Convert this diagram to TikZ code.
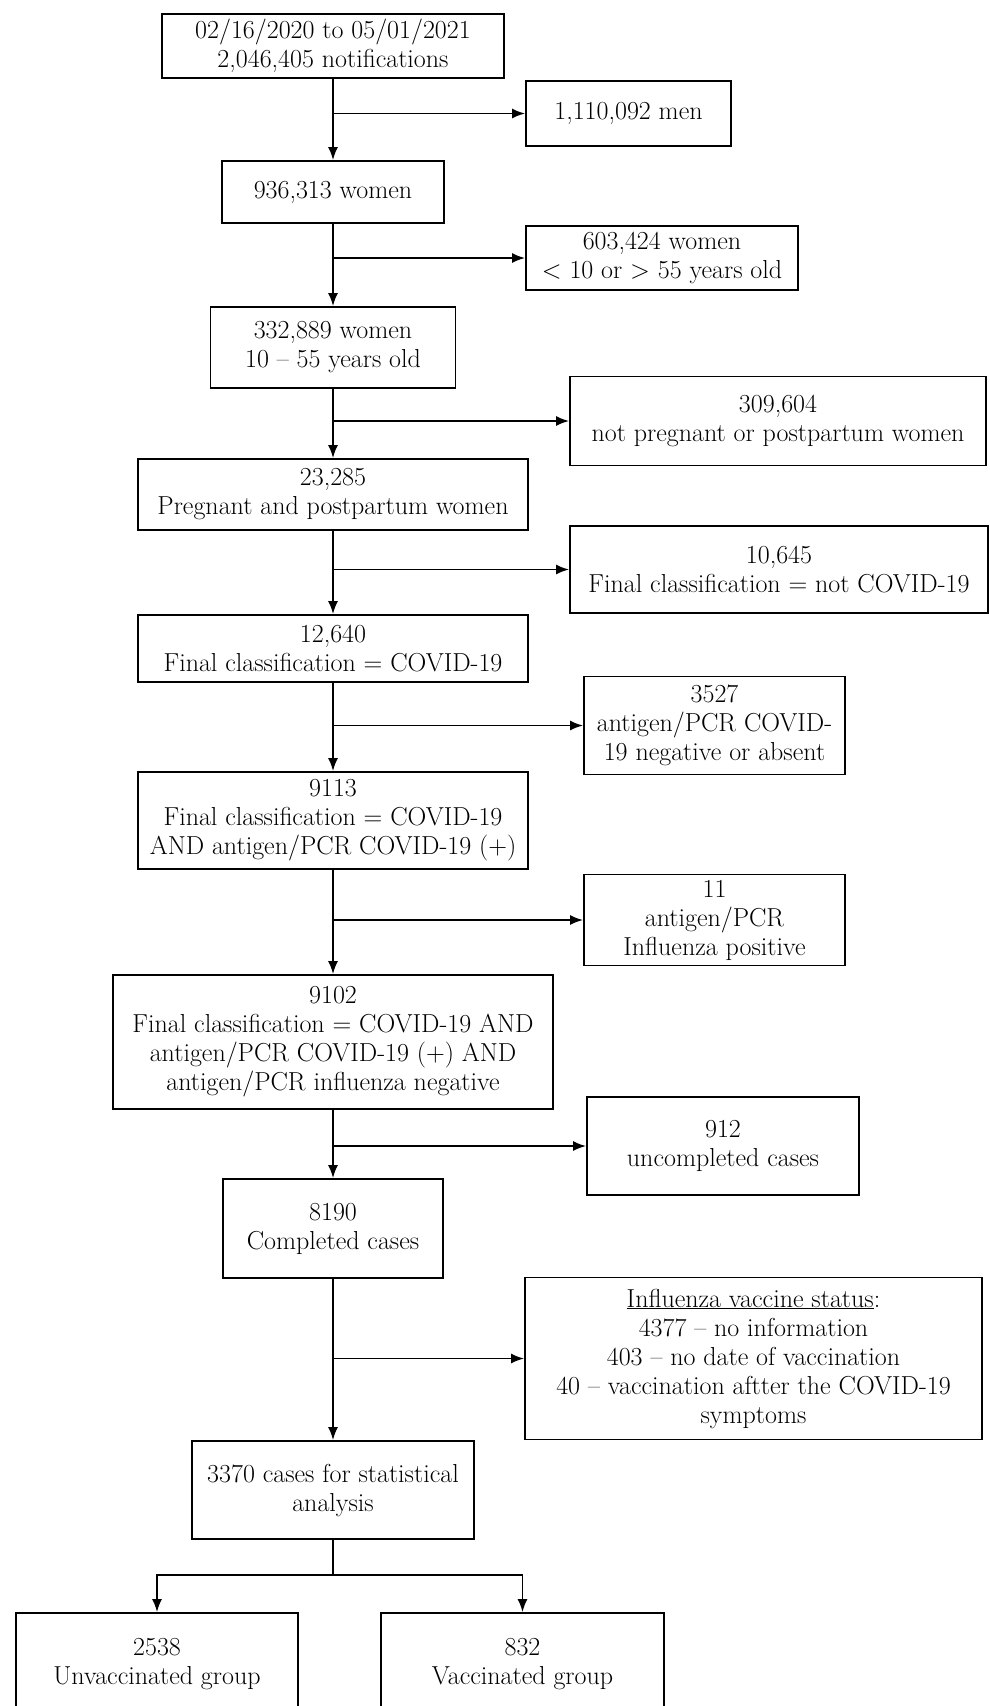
\documentclass[tikz,border=0pt]{standalone}
\usepackage{tikz}
\usetikzlibrary{arrows.meta}
\tikzset{
        fc_node/.style = {align=center, inner sep=0pt, text centered,
            font=\fontsize{26}{29}\selectfont},
        fc_main/.style = {fc_node, rectangle, draw=black, fill=white},
        fc_side/.style = {fc_node, rectangle, draw=black, fill=white}
    }

\begin{document}
\begin{tikzpicture}[x=1pt,y=-1pt,->,>={Latex[length=13pt,width=10pt]},line width=1.8pt]
    \useasboundingbox (0,0) rectangle (989,1706);
    % main column
    \node [fc_main, minimum width=342, minimum height=64] (start) at (333,46)
        {02/16/2020 to 05/01/2021\\2,046,405 notifications};
    \node [fc_main, minimum width=222, minimum height=62] (women) at (333,192)
        {936,313 women};
    \node [fc_main, minimum width=245, minimum height=81] (age) at (333,347.5)
        {332,889 women\\10 -- 55 years old};
    \node [fc_main, minimum width=390, minimum height=71] (preg) at (333,494.5)
        {23,285\\Pregnant and postpartum women};
    \node [fc_main, minimum width=390, minimum height=67] (covid) at (333,648.5)
        {12,640\\Final classification = COVID-19};
    \node [fc_main, minimum width=390, minimum height=97] (pcr) at (333,820.5)
        {9113\\Final classification = COVID-19\\AND antigen/PCR COVID-19 (+)};
    \node [fc_main, minimum width=440, minimum height=134] (flu) at (333,1042)
        {9102\\Final classification = COVID-19 AND\\antigen/PCR COVID-19 (+) AND\\antigen/PCR influenza negative};
    \node [fc_main, minimum width=220, minimum height=99] (comp) at (333,1228.5)
        {8190\\Completed cases};
    \node [fc_main, minimum width=282, minimum height=98] (stat) at (333,1490)
        {3370 cases for statistical\\analysis};
    % excluded
    \node [fc_side, minimum width=205, minimum height=65] (men) at (628.5,113.5)
        {1,110,092 men};
    \node [fc_side, minimum width=272, minimum height=64] (agex) at (662,258)
        {603,424 women\\< 10 or > 55 years old};
    \node [fc_side, minimum width=416, minimum height=89] (pregx) at (778,421)
        {309,604\\not pregnant or postpartum women};
    \node [fc_side, minimum width=418, minimum height=87] (covidx) at (779,569.5)
        {10,645\\Final classification = not COVID-19};
    \node [fc_side, minimum width=261, minimum height=98] (pcrx) at (714.5,725.5)
        {3527\\antigen/PCR COVID-\\19 negative or absent};
    \node [fc_side, minimum width=261, minimum height=91] (flux) at (714.5,920)
        {11\\antigen/PCR\\Influenza positive};
    \node [fc_side, minimum width=272, minimum height=98] (compx) at (723,1146)
        {912\\uncompleted cases};
    \node [fc_side, minimum width=457, minimum height=162] (vacx) at (753.5,1358.5)
        {\underline{Influenza vaccine status}:\\4377 -- no information\\403 -- no date of vaccination\\40 -- vaccination aftter the COVID-19\\symptoms};
    % groups
    \node [fc_main, minimum width=282, minimum height=102] (unvac) at (157,1664)
        {2538\\Unvaccinated group};
    \node [fc_main, minimum width=283, minimum height=102] (vac) at (522.5,1664)
        {832\\Vaccinated group};

    \draw (start) -- (women);
    \draw (women) -- (age);
    \draw (age) -- (preg);
    \draw (preg) -- (covid);
    \draw (covid) -- (pcr);
    \draw (pcr) -- (flu);
    \draw (flu) -- (comp);
    \draw (comp) -- (stat);

    \draw (start |- men) -- (men);
    \draw (women |- agex) -- (agex);
    \draw (age |- pregx) -- (pregx);
    \draw (preg |- covidx) -- (covidx);
    \draw (covid |- pcrx) -- (pcrx);
    \draw (pcr |- flux) -- (flux);
    \draw (flu |- compx) -- (compx);
    \draw (comp |- vacx) -- (vacx);

    \coordinate (split) at (333,1575);
    \draw [-] (stat) -- (split);
    \draw (split) -| (unvac);
    \draw (split) -| (vac);
\end{tikzpicture}
\end{document}
